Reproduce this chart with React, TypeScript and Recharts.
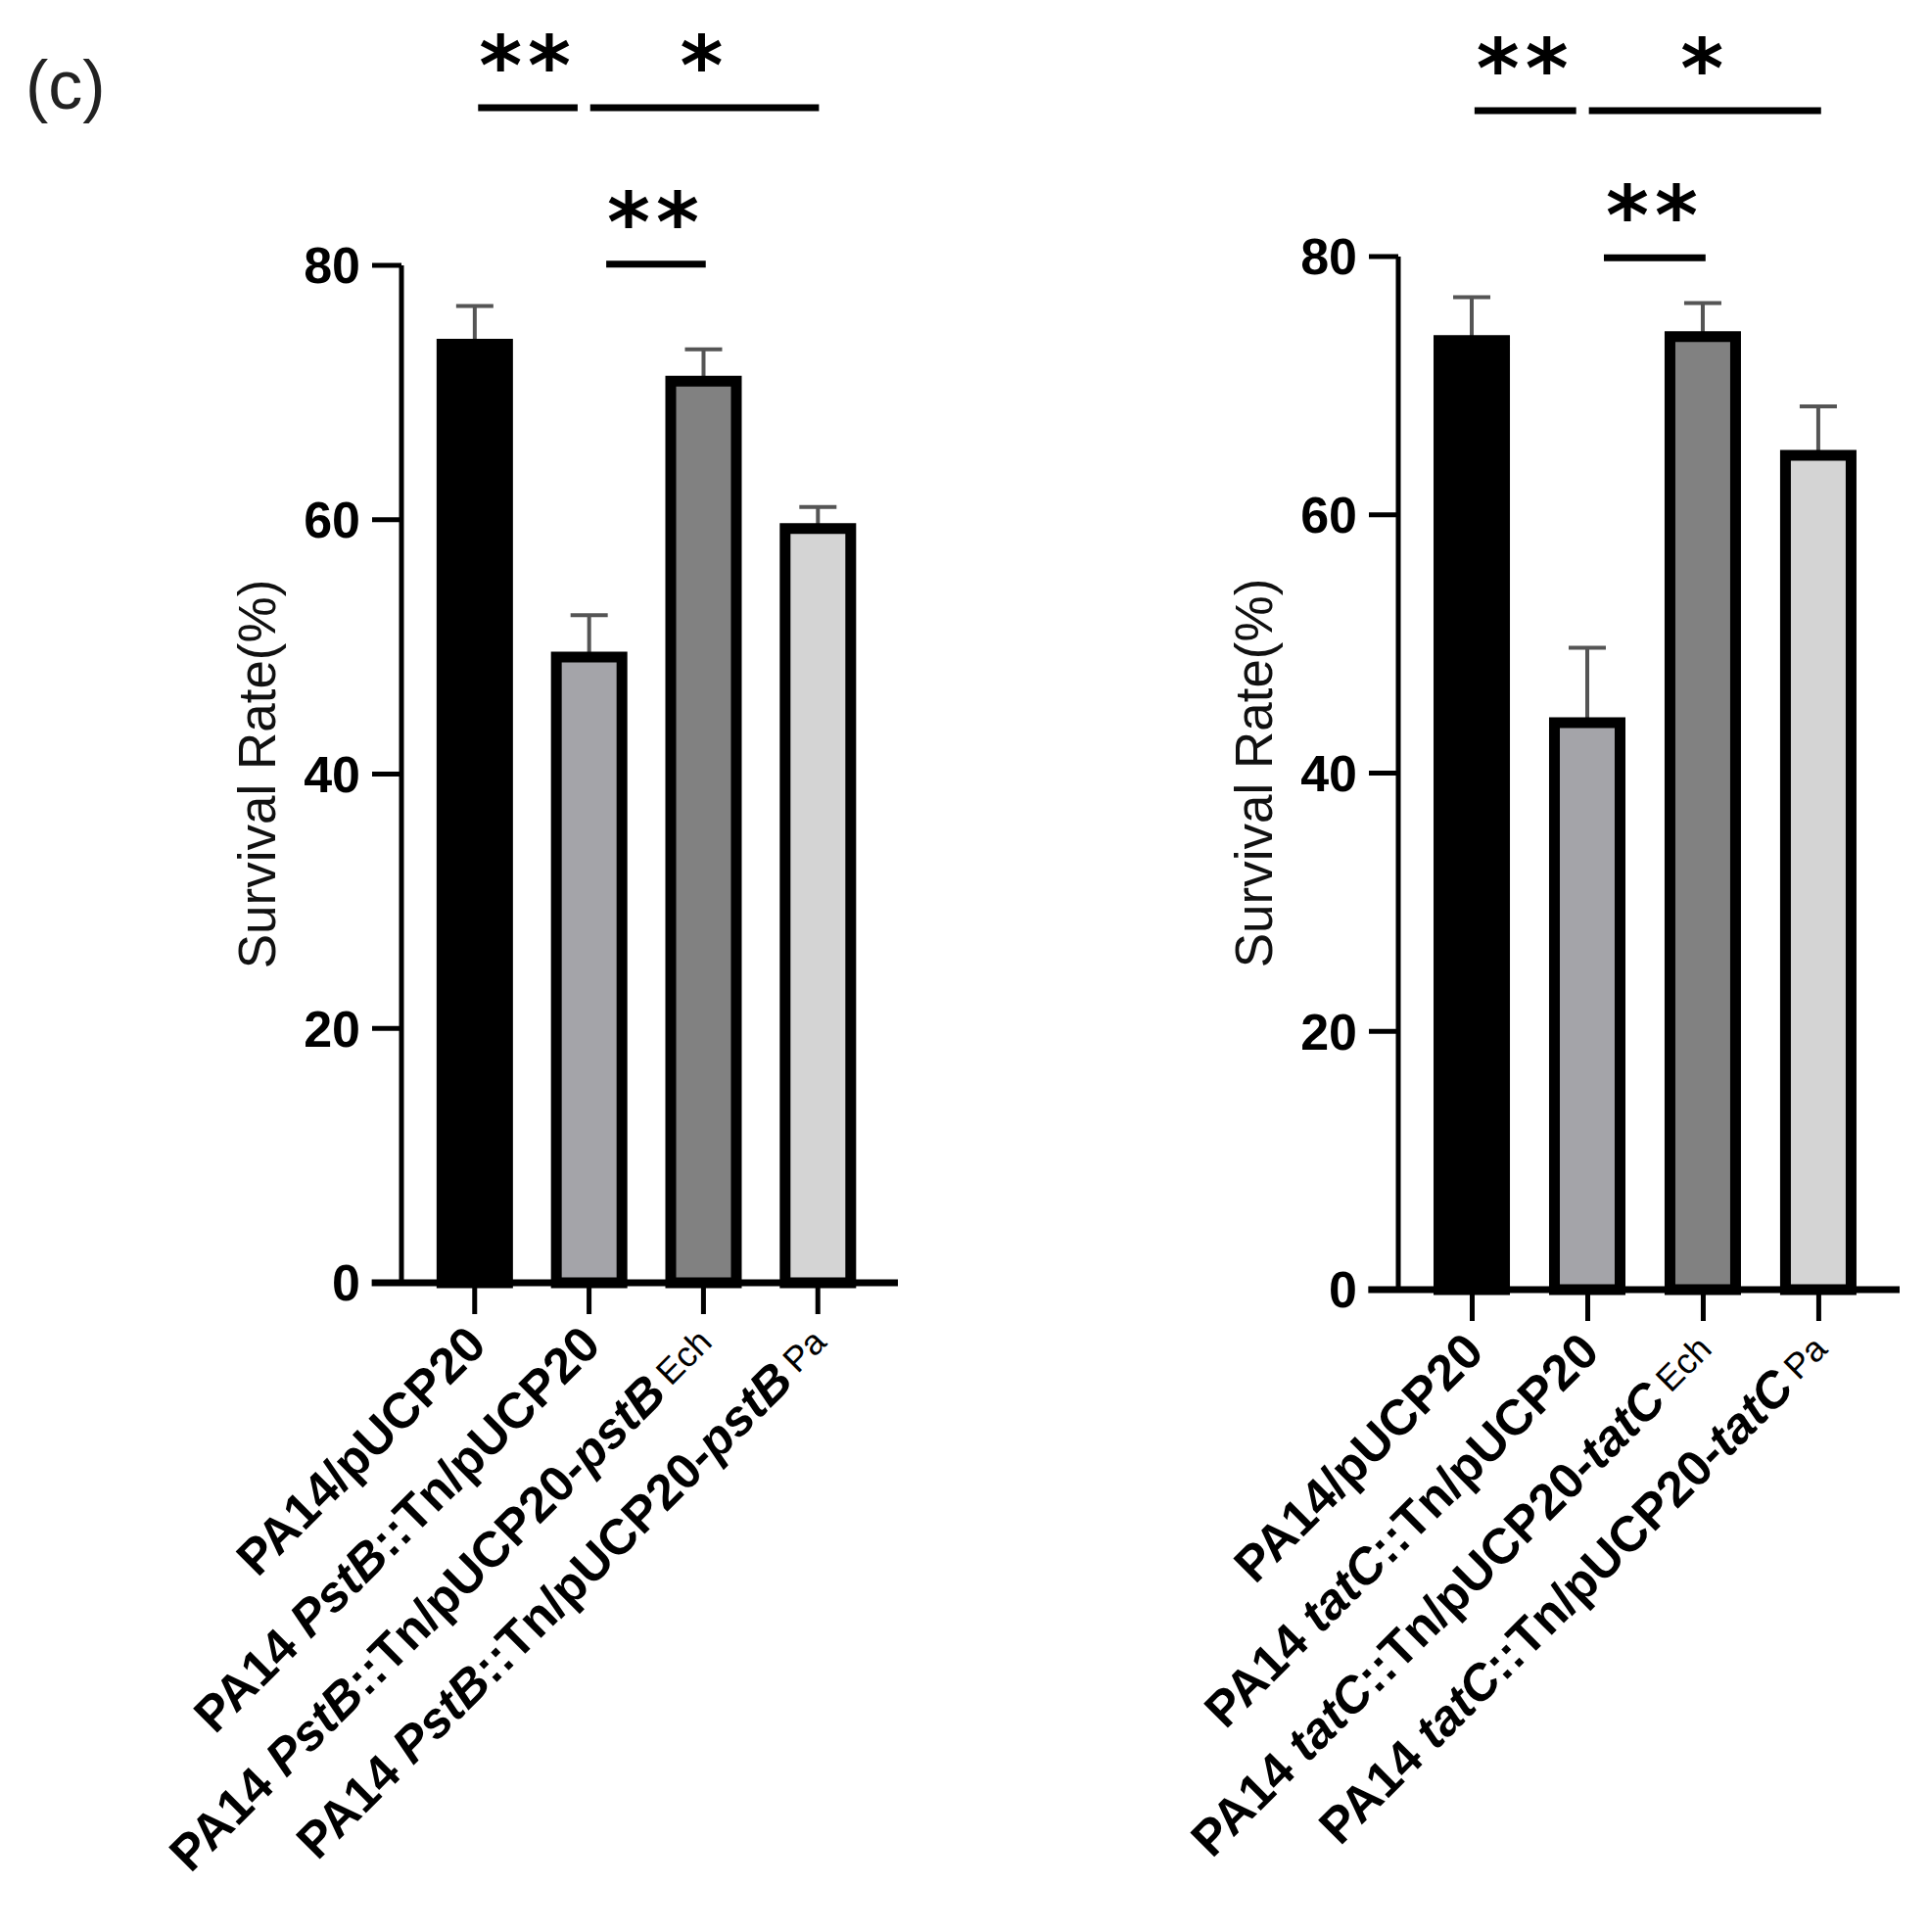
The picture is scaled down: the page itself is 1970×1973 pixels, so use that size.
import { BarChart, Bar, XAxis, YAxis, Cell, ReferenceLine } from "recharts";

const FONT = "'Liberation Sans', Arial, sans-serif";

type Part = { t: string; i?: boolean; sub?: boolean };

// left panel (PstB)
const pstLabels: Part[][] = [
  [{ t: "PA14/pUCP20" }],
  [{ t: "PA14 " }, { t: "PstB", i: true }, { t: "::Tn/pUCP20" }],
  [{ t: "PA14 " }, { t: "PstB", i: true }, { t: "::Tn/pUCP20-" }, { t: "pstB", i: true }, { t: "Ech", sub: true }],
  [{ t: "PA14 " }, { t: "PstB", i: true }, { t: "::Tn/pUCP20-" }, { t: "pstB", i: true }, { t: "Pa", sub: true }],
];
const pstMeans = [73.8, 49.2, 70.9, 59.3];
const pstErrors = [3.0, 3.3, 2.5, 1.7];

// right panel (tatC)
const tatLabels: Part[][] = [
  [{ t: "PA14/pUCP20" }],
  [{ t: "PA14 " }, { t: "tatC", i: true }, { t: "::Tn/pUCP20" }],
  [{ t: "PA14 " }, { t: "tatC", i: true }, { t: "::Tn/pUCP20-" }, { t: "tatC", i: true }, { t: "Ech", sub: true }],
  [{ t: "PA14 " }, { t: "tatC", i: true }, { t: "::Tn/pUCP20-" }, { t: "tatC", i: true }, { t: "Pa", sub: true }],
];
const tatMeans = [73.5, 43.9, 73.8, 64.6];
const tatErrors = [3.35, 5.8, 2.6, 3.8];

const barFills = ["#000000", "#a4a4a9", "#818181", "#d4d4d4"];
const yTicks = [0, 20, 40, 60, 80];
const xTicks = [0, 1, 2, 3];

// significance bars: from/to in category units, level in %
const pstSig = [
  { from: 0.03, to: 0.9, level: 92.4, mark: "**" },
  { from: 1.01, to: 3.01, level: 92.4, mark: "*" },
  { from: 1.15, to: 2.02, level: 80.1, mark: "**" },
];
const tatSig = [
  { from: 0.02, to: 0.9, level: 91.3, mark: "**" },
  { from: 1.01, to: 3.02, level: 91.3, mark: "*" },
  { from: 1.14, to: 2.02, level: 79.9, mark: "**" },
];

const XTick = (props: any) => {
  const { x, y, payload, labels } = props;
  const parts: Part[] = labels[payload.value] || [];
  return (
    <g transform={`translate(${x + 14},${y + 32})`}>
      <text transform="rotate(-45)" textAnchor="end" fontSize={51} fontWeight={700} fontFamily={FONT} fill="#000">
        {parts.map((p, k) => (
          <tspan
            key={k}
            fontStyle={p.i ? "italic" : "normal"}
            fontSize={p.sub ? 36 : 51}
            fontWeight={p.sub ? 400 : 700}
            dx={p.sub ? 8 : 0}
            dy={p.sub ? -5 : 0}
          >
            {p.t}
          </tspan>
        ))}
      </text>
    </g>
  );
};

const YLabel = (props: any) => {
  const vb = props.viewBox || { x: 0, y: 0, width: 0, height: 0 };
  const cx = vb.x - 88;
  const cy = vb.y + vb.height / 2;
  return (
    <text
      x={cx}
      y={cy}
      transform={`rotate(-90, ${cx}, ${cy})`}
      textAnchor="middle"
      dominantBaseline="central"
      fontSize={53}
      fontFamily={FONT}
      fill="#111"
    >
      Survival Rate(%)
    </text>
  );
};

// upper-only error bar drawn from a range bar [mean, mean + sd]
const ErrShape = (props: any) => {
  const { x, y, width, height } = props;
  if (x == null || y == null) return null;
  const cx = x + width / 2;
  return (
    <g stroke="#555" strokeWidth={4}>
      <line x1={cx} x2={cx} y1={y} y2={y + height} />
      <line x1={cx - 19} x2={cx + 19} y1={y} y2={y} />
    </g>
  );
};

type PanelProps = {
  means: number[];
  errors: number[];
  labels: Part[][];
  sig: { from: number; to: number; level: number; mark: string }[];
  margin: { top: number; right: number; bottom: number; left: number };
};

const Panel = ({ means, errors, labels, sig, margin }: PanelProps) => {
  const data = means.map((v, i) => ({ idx: i, value: v, errRange: [v, v + errors[i]] }));
  return (
    <BarChart width={985} height={1973} data={data} margin={margin}>
      <XAxis
        xAxisId="main"
        type="number"
        dataKey="idx"
        domain={[-0.64, 3.7]}
        allowDataOverflow
        ticks={xTicks}
        interval={0}
        axisLine={false}
        tickLine={{ stroke: "#000", strokeWidth: 5 }}
        tickSize={32}
        height={1}
        tick={(p: any) => <XTick {...p} labels={labels} />}
      />
      <XAxis
        xAxisId="err"
        orientation="top"
        type="number"
        dataKey="idx"
        domain={[-0.64, 3.7]}
        allowDataOverflow
        height={0}
        hide
      />
      <YAxis
        type="number"
        domain={[0, 80]}
        ticks={yTicks}
        width={60}
        axisLine={{ stroke: "#000", strokeWidth: 5 }}
        tickLine={{ stroke: "#000", strokeWidth: 5 }}
        tickSize={30}
        tickMargin={12}
        tick={{ fill: "#000", fontSize: 52, fontWeight: 700, fontFamily: FONT }}
        label={<YLabel />}
      />
      <Bar xAxisId="err" dataKey="errRange" barSize={67} shape={<ErrShape />} isAnimationActive={false} />
      <Bar xAxisId="main" dataKey="value" barSize={67} stroke="#000" strokeWidth={11} isAnimationActive={false}>
        {data.map((d, i) => (
          <Cell key={d.idx} fill={barFills[i]} />
        ))}
      </Bar>
      <ReferenceLine
        xAxisId="main"
        segment={[{ x: -0.9, y: 0 }, { x: 3.7, y: 0 }]}
        stroke="#000"
        strokeWidth={7}
        ifOverflow="visible"
      />
      {sig.map((s, k) => (
        <ReferenceLine
          key={k}
          xAxisId="main"
          segment={[{ x: s.from, y: s.level }, { x: s.to, y: s.level }]}
          stroke="#000"
          strokeWidth={7}
          ifOverflow="visible"
          label={{
            value: s.mark,
            position: "top",
            offset: 14,
            fill: "#000",
            fontSize: 84,
            fontWeight: 700,
            fontFamily: "'DejaVu Sans', sans-serif",
            letterSpacing: 6,
          }}
        />
      ))}
    </BarChart>
  );
};

export default function App() {
  return (
    <div style={{ position: "absolute", left: 0, top: 0, width: 1970, height: 1973, background: "#fff" }}>
      <div style={{ position: "absolute", left: 26, top: 52, fontFamily: FONT, fontSize: 70, color: "#222", lineHeight: 1 }}>
        (c)
      </div>
      <div style={{ position: "absolute", left: 0, top: 0 }}>
        <Panel
          means={pstMeans}
          errors={pstErrors}
          labels={pstLabels}
          sig={pstSig}
          margin={{ top: 271, right: 68, bottom: 662, left: 350 }}
        />
      </div>
      <div style={{ position: "absolute", left: 985, top: 0 }}>
        <Panel
          means={tatMeans}
          errors={tatErrors}
          labels={tatLabels}
          sig={tatSig}
          margin={{ top: 262, right: 30, bottom: 655, left: 383 }}
        />
      </div>
    </div>
  );
}
